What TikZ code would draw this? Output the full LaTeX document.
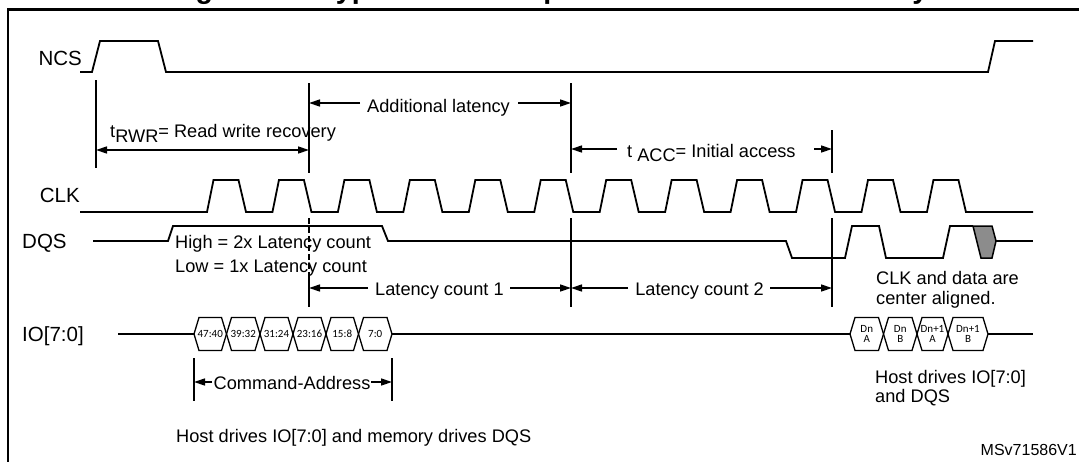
\documentclass[tikz,border=0pt]{standalone}
\usepackage{fontspec}
\setmainfont{Liberation Sans}
\newfontfamily\calib{Carlito}
\usetikzlibrary{arrows.meta}
\begin{document}
\begin{tikzpicture}[x=1pt,y=-1pt,
  sig/.style={line width=1.8pt, line join=miter},
  vline/.style={line width=1.6pt},
  arr/.style={line width=1.4pt,-{Triangle[length=11pt,width=7pt]}},
  darr/.style={line width=1.4pt,{Triangle[length=11pt,width=7pt]}-{Triangle[length=11pt,width=7pt]}},
  lbl/.style={font=\fontsize{20.5}{24}\selectfont, inner sep=0pt},
  txt/.style={font=\fontsize{18.2}{21}\selectfont, inner sep=0pt},
  hex/.style={line width=1.3pt},
  hext/.style={font=\calib\fontsize{11}{10.5}\selectfont, inner sep=0pt, align=center}
]
\useasboundingbox (0,0) rectangle (1079,461);
\clip (0,0) rectangle (1079,461);
% title (clipped at top, as in the reference)
\node[anchor=base west, font=\bfseries\fontsize{28.5}{30}\selectfont, inner sep=0pt] (title) at (170,-2) {Figure 50. HyperBus read operation with double latency};
% frame
\draw[line width=2.5pt] (8,470) -- (8,9.5) -- (1090,9.5);

% signal labels
\node[lbl, anchor=base east] (ncs) at (82,65) {NCS};
\node[lbl, anchor=base east] (clk) at (80,202) {CLK};
\node[lbl, anchor=base west] (dqs) at (22,248.5) {DQS};
\node[lbl, anchor=base west] (io) at (22,341) {IO[7:0]};

% NCS
\draw[sig] (80,72) -- (92,72) -- (100,41) -- (158,41) -- (166,72) -- (988,72) -- (995,41) -- (1033,41);
% CLK
\draw[sig] (80,212) \foreach \k in {0,...,11} { -- ({207+65.45*\k},212) -- ({213.5+65.45*\k},180) -- ({238.5+65.45*\k},180) -- ({246+65.45*\k},212) } -- (1033,212);
% DQS
\draw[sig] (93,241) -- (168,241) -- (173,226) -- (382,226) -- (388,241) -- (786,241) -- (792,258) -- (845,258) -- (852,226) -- (879,226) -- (886,258) -- (943,258) -- (950,226) -- (973,226);
\filldraw[fill=black!45, line width=1.5pt, line join=miter] (973,226) -- (992,226) -- (996,241) -- (992,258) -- (981,258) -- cycle;
\draw[sig] (996,241) -- (1033,241);

% IO line and hex boxes
\draw[sig] (118,334) -- (194,334);
\draw[sig] (392,334) -- (850,334);
\draw[sig] (988,334) -- (1033,334);
\foreach \a/\b/\t [count=\i] in {194/226.5/47:40, 226.5/260/39:32, 260/293/31:24, 293/326/23:16, 326/358.5/15:8, 358.5/392/7:0}{
  \draw[hex, line join=miter] (\a,334) -- ({\a+5},317.5) -- ({\b-5},317.5) -- (\b,334) -- ({\b-5},350.5) -- ({\a+5},350.5) -- cycle;
  \node[hext] (ca\i) at ({(\a+\b)/2},334) {\t};
}
\foreach \a/\b/\t [count=\i] in {850/883.5/{Dn\\A}, 883.5/917/{Dn\\B}, 917/948/{Dn+1\\A}, 948/988/{Dn+1\\B}}{
  \draw[hex, line join=miter] (\a,334) -- ({\a+5},317.5) -- ({\b-5},317.5) -- (\b,334) -- ({\b-5},350.5) -- ({\a+5},350.5) -- cycle;
  \node[hext] (dn\i) at ({(\a+\b)/2},334) {\t};
}

% vertical markers
\coordinate (A1) at (96,80);   \coordinate (A2) at (96,168);
\coordinate (B1) at (309,83);  \coordinate (B2) at (309,173);
\coordinate (B3) at (309,218); \coordinate (B4) at (309,275); \coordinate (B5) at (309,307);
\coordinate (C1) at (571,83);  \coordinate (C2) at (571,173);
\coordinate (C3) at (571,218); \coordinate (C4) at (571,307);
\coordinate (D1) at (832,130); \coordinate (D2) at (832,173);
\coordinate (D3) at (832,218); \coordinate (D4) at (832,307);
\draw[vline] (A1) -- (A2);
\draw[vline] (B1) -- (B2);
\draw[vline, dash pattern=on 6pt off 3pt] (B3) -- (B4);
\draw[vline] (B4) -- (B5);
\draw[vline] (C1) -- (C2);
\draw[vline] (C3) -- (C4);
\draw[vline] (D1) -- (D2);
\draw[vline] (D3) -- (D4);
\coordinate (E1) at (194,358); \coordinate (E2) at (194,401);
\coordinate (F1) at (392,358); \coordinate (F2) at (392,401);
\draw[line width=1.3pt] (E1) -- (E2);
\draw[line width=1.3pt] (F1) -- (F2);

% arrow end points
\coordinate (rwrL) at (96,150);  \coordinate (rwrR) at (309,150);
\coordinate (alL) at (309,103);  \coordinate (alLt) at (360,103);
\coordinate (alR) at (571,103);  \coordinate (alRt) at (518,103);
\coordinate (acL) at (571,149);  \coordinate (acLt) at (617,149);
\coordinate (acR) at (832,149);  \coordinate (acRt) at (814,149);
\coordinate (l1L) at (309,288);  \coordinate (l1Lt) at (368,288);
\coordinate (l1R) at (571,288);  \coordinate (l1Rt) at (510,288);
\coordinate (l2L) at (571,288);  \coordinate (l2Lt) at (628,288);
\coordinate (l2R) at (832,288);  \coordinate (l2Rt) at (770,288);
\coordinate (caL) at (194,382);  \coordinate (caLt) at (212,382);
\coordinate (caR) at (392,382);  \coordinate (caRt) at (371,382);

\draw[darr] (rwrL) -- (rwrR);
\draw[arr] (alLt) -- (alL);
\draw[arr] (alRt) -- (alR);
\draw[arr] (acLt) -- (acL);
\draw[arr] (acRt) -- (acR);
\draw[arr] (l1Lt) -- (l1L);
\draw[arr] (l1Rt) -- (l1R);
\draw[arr] (l2Lt) -- (l2L);
\draw[arr] (l2Rt) -- (l2R);
\draw[arr] (caLt) -- (caL);
\draw[arr] (caRt) -- (caR);

% texts
\node[txt, anchor=base west] (trwr) at (110,137) {t\raisebox{-5pt}{RWR}= Read write recovery};
\node[txt, anchor=base west] (addl) at (367,112) {Additional latency};
\node[txt, anchor=base west] (tacc) at (627,157) {t \raisebox{-4pt}{ACC}= Initial access};
\node[txt, anchor=base west] (high) at (175,248) {High = 2x Latency count};
\node[txt, anchor=base west] (low) at (175,272) {Low = 1x Latency count};
\node[txt, anchor=base west] (lc1) at (375,295) {Latency count 1};
\node[txt, anchor=base east] (lc2) at (764,295) {Latency count 2};
\node[txt, anchor=base west] (cad1) at (876,284) {CLK and data are};
\node[txt, anchor=base west] (cad2) at (876,304) {center aligned.};
\node[txt, anchor=base] (cmd) at (292,389) {Command-Address};
\node[txt, anchor=base west] (hd1) at (875,383) {Host drives IO[7:0]};
\node[txt, anchor=base west] (hd2) at (875,402) {and DQS};
\node[txt, anchor=base west] (hdm) at (176,442) {Host drives IO[7:0] and memory drives DQS};
\node[anchor=base east, inner sep=0pt, font=\fontsize{16}{18}\selectfont] (msv) at (1077,455) {MSv71586V1};
\end{tikzpicture}
\end{document}
